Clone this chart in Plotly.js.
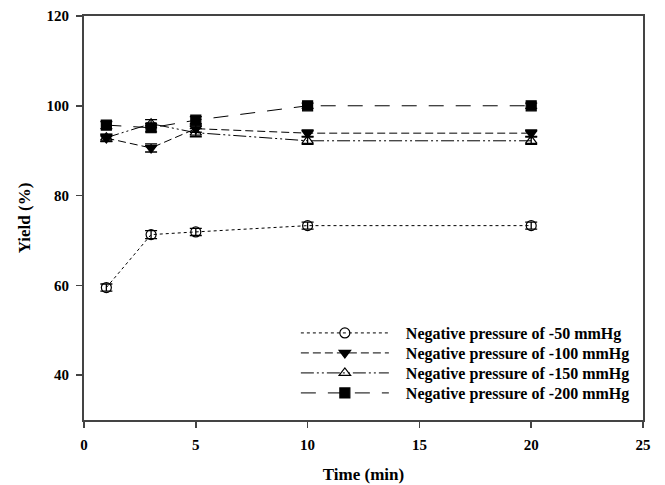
<!DOCTYPE html>
<html>
<head>
<meta charset="utf-8">
<script src="https://cdn.plot.ly/plotly-3.0.1.min.js"></script>
<style>html,body{margin:0;padding:0;background:#fff;}#chart{width:665px;height:485px;}</style>
</head>
<body>
<div id="chart"></div>
<script>
const time = [1, 3, 5, 10, 20];
const seriesNames = [
  "Negative pressure of -50 mmHg",
  "Negative pressure of -100 mmHg",
  "Negative pressure of -150 mmHg",
  "Negative pressure of -200 mmHg"
];
const yield50 = [59.5, 71.3, 71.9, 73.3, 73.3];
const err50 = [0.8, 0.9, 0.8, 0.8, 0.8];
const yield100 = [92.8, 90.6, 94.9, 93.9, 93.9];
const err100 = [0.8, 0.9, 0.8, 0.7, 0.7];
const yield150 = [92.9, 96.0, 94.0, 92.2, 92.2];
const err150 = [0.8, 0.9, 0.9, 0.8, 0.8];
const yield200 = [95.7, 95.1, 96.8, 100.0, 100.0];
const err200 = [0.8, 0.9, 0.8, 0.6, 0.6];

const font = "'Liberation Serif', 'Times New Roman', serif";
const pad = '\u00a0\u00a0\u00a0';
function tr(name, y, e, dash, symbol, leg) {
  return {
    x: time, y: y, name: pad + name, type: 'scatter', mode: 'lines+markers', legend: leg,
    line: {color: '#000', width: 1, dash: dash},
    marker: {symbol: symbol, size: 10, color: '#000', line: {color: '#000', width: 1.2}},
    error_y: {type: 'data', array: e, visible: true, color: '#000', thickness: 1.3, width: 6}
  };
}
const data = [
  tr(seriesNames[0], yield50, err50, 'dot', 'circle-open', 'legend'),
  tr(seriesNames[1], yield100, err100, '8px,4px', 'triangle-down', 'legend2'),
  tr(seriesNames[2], yield150, err150, '13px,3px,2px,3px,2px,3px', 'triangle-up-open', 'legend3'),
  tr(seriesNames[3], yield200, err200, '15px,12px', 'square', 'legend4')
];
function leg(y) {
  return {
    x: 0.379, y: y, xanchor: 'left', yanchor: 'middle',
    bgcolor: 'rgba(0,0,0,0)', itemwidth: 88,
    font: {family: font, size: 16, color: '#000', weight: 'bold'}
  };
}
const layout = {
  width: 665, height: 485,
  margin: {l: 84, r: 22, t: 16, b: 65},
  paper_bgcolor: '#fff', plot_bgcolor: '#fff',
  font: {family: font, color: '#000', size: 15},
  showlegend: true,
  legend: leg(0.2153), legend2: leg(0.1658), legend3: leg(0.1163), legend4: leg(0.0668),
  xaxis: {
    range: [0, 25], tickvals: [0, 5, 10, 15, 20, 25], ticktext: ['0','5','10','15','20','25'],
    showgrid: false, zeroline: false, showline: true, linecolor: '#444', linewidth: 2, mirror: true,
    ticks: 'outside', ticklen: 6, tickwidth: 1.5, tickcolor: '#444', ticklabelstandoff: 4,
    tickfont: {family: font, size: 15, weight: 'bold'},
    title: {text: 'Time (min)', font: {family: font, size: 17, weight: 'bold'}, standoff: 16}
  },
  yaxis: {
    range: [30, 120], tickvals: [40, 60, 80, 100, 120], ticktext: ['40','60','80','100','120'],
    showgrid: false, zeroline: false, showline: true, linecolor: '#444', linewidth: 2, mirror: true,
    ticks: 'outside', ticklen: 6, tickwidth: 1.5, tickcolor: '#444', ticklabelstandoff: 4,
    tickfont: {family: font, size: 15, weight: 'bold'},
    title: {text: 'Yield (%)', font: {family: font, size: 17, weight: 'bold'}, standoff: 12}
  }
};
Plotly.newPlot('chart', data, layout, {staticPlot: true, displayModeBar: false});
</script>
</body>
</html>
